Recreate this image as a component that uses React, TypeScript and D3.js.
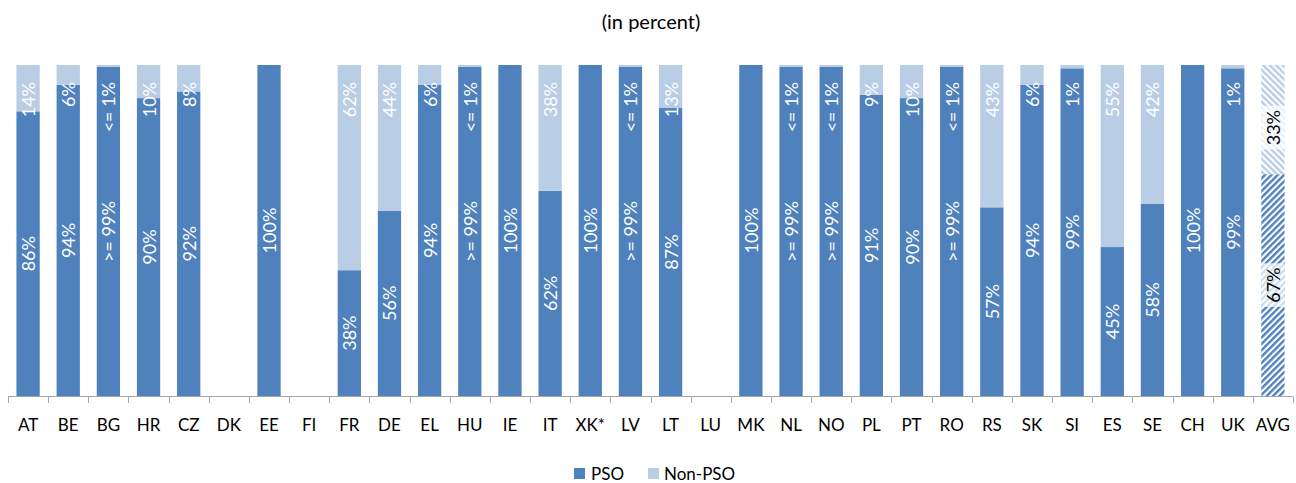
import React from "react";
import * as d3 from "d3";

const categories = ["AT","BE","BG","HR","CZ","DK","EE","FI","FR","DE","EL","HU","IE","IT","XK*","LV","LT","LU","MK","NL","NO","PL","PT","RO","RS","SK","SI","ES","SE","CH","UK","AVG"];
const psoValues: (number | null)[] = [86,94,99.4,90,92,null,100,null,38,56,94,99.4,100,62,100,99.4,87,null,100,99.4,99.4,91,90,99.4,57,94,99,45,58,100,99,67];
const nonPsoValues: (number | null)[] = [14,6,0.6,10,8,null,0,null,62,44,6,0.6,0,38,0,0.6,13,null,0,0.6,0.6,9,10,0.6,43,6,1,55,42,0,1,33];
const psoLabels = ["86%","94%",">= 99%","90%","92%","","100%","","38%","56%","94%",">= 99%","100%","62%","100%",">= 99%","87%","","100%",">= 99%",">= 99%","91%","90%",">= 99%","57%","94%","99%","45%","58%","100%","99%","67%"];
const nonPsoLabels = ["14%","6%","<= 1%","10%","8%","","","","62%","44%","6%","<= 1%","","38%","","<= 1%","13%","","","<= 1%","<= 1%","9%","10%","<= 1%","43%","6%","1%","55%","42%","","1%","33%"];
const seriesNames = ["PSO", "Non-PSO"];
const title = "(in percent)";

const W = 1296;
const H = 483;
const PSO_COLOR = "#4F81BD";
const NON_COLOR = "#B9CDE5";
const FONT = "Lato, 'Open Sans', sans-serif";

export default function App() {
  const x = d3.scaleBand<string>().domain(categories).range([8, 1293]).paddingInner(0.42).paddingOuter(0.21);
  const y = d3.scaleLinear().domain([0, 100]).range([396, 65]);
  const step = x.step();
  const bw = x.bandwidth();
  const rangeStart = 8;
  const lastIdx = categories.length - 1;

  const bars: React.ReactNode[] = [];
  const labels: React.ReactNode[] = [];

  categories.forEach((c, i) => {
    const p = psoValues[i];
    const n = nonPsoValues[i];
    if (p === null || n === null) return;
    const bx = x(c)!;
    const cx = bx + bw / 2;
    const isAvg = i === lastIdx;
    const pTop = y(p);
    const nTop = y(p + n);
    bars.push(
      <rect key={"p" + c} x={bx} y={pTop} width={bw} height={y(0) - pTop}
        fill={isAvg ? "url(#hatchPso)" : PSO_COLOR} />
    );
    if (n > 0) {
      bars.push(
        <rect key={"n" + c} x={bx} y={nTop} width={bw} height={pTop - nTop}
          fill={isAvg ? "url(#hatchNon)" : NON_COLOR} />
      );
    }
    const fs = 18;
    if (psoLabels[i]) {
      const cy = (pTop + y(0)) / 2;
      if (isAvg) {
        const len = psoLabels[i].length * fs * 0.55;
        labels.push(
          <rect key={"pb" + c} x={bx} y={cy - len / 2 - 7} width={bw} height={len + 14} fill="#fff" opacity={0.75} />
        );
      }
      labels.push(
        <text key={"pl" + c} transform={`translate(${cx},${cy}) rotate(-90)`} textAnchor="middle"
          dominantBaseline="central" fontSize={fs} fontFamily={FONT} fill={isAvg ? "#000" : "#fff"}>
          {psoLabels[i]}
        </text>
      );
    }
    if (nonPsoLabels[i]) {
      if (isAvg) {
        const cy = (nTop + pTop) / 2 + 8;
        const len = nonPsoLabels[i].length * fs * 0.55;
        labels.push(
          <rect key={"nb" + c} x={bx} y={cy - len / 2 - 7} width={bw} height={len + 14} fill="#fff" opacity={0.75} />
        );
        labels.push(
          <text key={"nl" + c} transform={`translate(${cx},${cy}) rotate(-90)`} textAnchor="middle"
            dominantBaseline="central" fontSize={fs} fontFamily={FONT} fill="#000">
            {nonPsoLabels[i]}
          </text>
        );
      } else {
        const endY = y(100) + 17;
        labels.push(
          <text key={"nl" + c} transform={`translate(${cx},${endY}) rotate(-90)`} textAnchor="end"
            dominantBaseline="central" fontSize={fs} fontFamily={FONT} fill="#fff">
            {nonPsoLabels[i]}
          </text>
        );
      }
    }
  });

  const ticks = d3.range(categories.length + 1).map((k) => rangeStart + k * step);

  return (
    <svg width={W} height={H} style={{ position: "absolute", left: 0, top: 0, background: "#fff" }}>
      <defs>
        <pattern id="hatchPso" patternUnits="userSpaceOnUse" width={4.5} height={4.5} patternTransform="rotate(45)">
          <rect width={4.5} height={4.5} fill="#fff" />
          <rect width={2.4} height={4.5} fill={PSO_COLOR} />
        </pattern>
        <pattern id="hatchNon" patternUnits="userSpaceOnUse" width={4.5} height={4.5} patternTransform="rotate(-45)">
          <rect width={4.5} height={4.5} fill="#fff" />
          <rect width={2.4} height={4.5} fill={NON_COLOR} />
        </pattern>
      </defs>
      <text x={651} y={29} textAnchor="middle" fontSize={20} fontFamily={FONT} fill="#000">{title}</text>
      {bars}
      {labels}
      <line x1={rangeStart} x2={rangeStart + categories.length * step} y1={396.5} y2={396.5} stroke="#A6A6A6" strokeWidth={1} />
      {ticks.map((t, k) => (
        <line key={"t" + k} x1={Math.round(t) + 0.5} x2={Math.round(t) + 0.5} y1={396.5} y2={403} stroke="#A6A6A6" strokeWidth={1} />
      ))}
      {categories.map((c) => (
        <text key={"c" + c} x={x(c)! + bw / 2} y={431} textAnchor="middle" fontSize={17} fontFamily={FONT} fill="#000">{c}</text>
      ))}
      <rect x={574} y={468} width={11} height={11} fill={PSO_COLOR} />
      <text x={591} y={480} fontSize={17} fontFamily={FONT} fill="#000">{seriesNames[0]}</text>
      <rect x={648} y={468} width={11} height={11} fill={NON_COLOR} />
      <text x={664} y={480} fontSize={17} fontFamily={FONT} fill="#000">{seriesNames[1]}</text>
    </svg>
  );
}
